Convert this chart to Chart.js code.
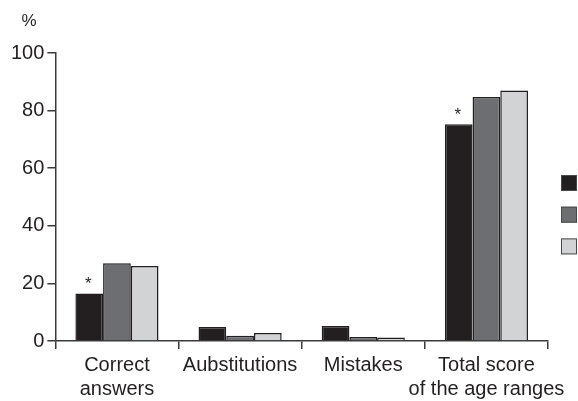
<!DOCTYPE html>
<html>
<head>
<meta charset="utf-8">
<script src="https://cdn.jsdelivr.net/npm/chart.js@4/dist/chart.umd.min.js"></script>
<style>
  html, body { margin: 0; padding: 0; background: #fff; }
  #wrap { width: 578px; height: 401px; }
</style>
</head>
<body>
<div id="wrap"><canvas id="c" width="578" height="401"></canvas></div>
<script>
// Categories along the x axis (multi-line labels as arrays)
const categories = [['Correct', 'answers'], 'Aubstitutions', 'Mistakes', ['Total score', 'of the age ranges']];

// Percentages for the three groups
const seriesA = [16.5, 4.9, 5.2, 75.3];
const seriesB = [27.0, 1.8, 1.4, 84.7];
const seriesC = [26.0, 2.8, 1.2, 87.0];

// Bars of the first group flagged with an asterisk
const markedA = [true, false, false, true];

// Y axis tick values
const yTicks = [0, 20, 40, 60, 80, 100];

const INK = '#231f20';
const AXIS = '#3a3a3a';
const FONT = "'Liberation Sans', Arial, Helvetica, sans-serif";

// "%" unit above the y axis
const unitLabel = {
  id: 'unitLabel',
  afterDraw(chart) {
    const ctx = chart.ctx;
    ctx.save();
    ctx.fillStyle = INK;
    ctx.font = '17px ' + FONT;
    ctx.textAlign = 'center';
    ctx.textBaseline = 'middle';
    ctx.fillText('%', 29, 21);
    ctx.restore();
  }
};

// Asterisks above flagged bars of the first dataset
const asterisks = {
  id: 'asterisks',
  afterDatasetsDraw(chart) {
    const meta = chart.getDatasetMeta(0);
    const ctx = chart.ctx;
    ctx.save();
    ctx.fillStyle = INK;
    ctx.font = '17px ' + FONT;
    ctx.textAlign = 'center';
    ctx.textBaseline = 'middle';
    markedA.forEach((flag, i) => {
      if (!flag) return;
      const bar = meta.data[i];
      ctx.fillText('*', bar.x - 1, bar.y - 9);
    });
    ctx.restore();
  }
};

// Colour key: squares only, stacked at the right edge
const keyBoxes = {
  id: 'keyBoxes',
  afterDraw(chart) {
    const ctx = chart.ctx;
    const x = chart.chartArea.right + 13;
    const y0 = 175;
    const size = 16;
    const gap = 31.7;
    ctx.save();
    chart.data.datasets.forEach((ds, i) => {
      const y = y0 + i * gap;
      ctx.fillStyle = ds.backgroundColor;
      ctx.fillRect(x, y, size, size);
      ctx.lineWidth = 1;
      ctx.strokeStyle = '#4a4a4a';
      ctx.strokeRect(x + 0.5, y + 0.5, size - 1, size - 1);
    });
    ctx.restore();
  }
};

const barStyle = {
  borderColor: INK,
  borderWidth: 1.5,
  borderSkipped: 'start',
  categoryPercentage: 0.675,
  barPercentage: 1.0
};

new Chart(document.getElementById('c'), {
  type: 'bar',
  data: {
    labels: categories,
    datasets: [
      Object.assign({ label: '', data: seriesA, backgroundColor: '#231f20' }, barStyle),
      Object.assign({ label: '', data: seriesB, backgroundColor: '#6d6e71' }, barStyle),
      Object.assign({ label: '', data: seriesC, backgroundColor: '#d1d3d4' }, barStyle)
    ]
  },
  options: {
    responsive: false,
    animation: false,
    devicePixelRatio: 1,
    layout: { padding: { top: 53, left: 8, right: 30, bottom: -4 } },
    plugins: {
      legend: { display: false },
      tooltip: { enabled: false }
    },
    scales: {
      x: {
        offset: true,
        grid: {
          display: true,
          offset: true,
          drawOnChartArea: false,
          drawTicks: true,
          tickLength: 8,
          color: AXIS,
          lineWidth: 1.5
        },
        border: { display: true, color: AXIS, width: 1.5 },
        ticks: {
          color: INK,
          font: { family: FONT, size: 20, lineHeight: 1.2 },
          padding: 4,
          maxRotation: 0,
          autoSkip: false
        }
      },
      y: {
        min: 0,
        max: 100,
        afterBuildTicks(scale) {
          scale.ticks = yTicks.map(v => ({ value: v }));
        },
        grid: {
          display: true,
          drawOnChartArea: false,
          drawTicks: true,
          tickLength: 8,
          color: AXIS,
          lineWidth: 1.5
        },
        border: { display: true, color: AXIS, width: 1.5 },
        ticks: {
          color: INK,
          font: { family: FONT, size: 20 },
          padding: 3
        }
      }
    }
  },
  plugins: [unitLabel, asterisks, keyBoxes]
});
</script>
</body>
</html>
